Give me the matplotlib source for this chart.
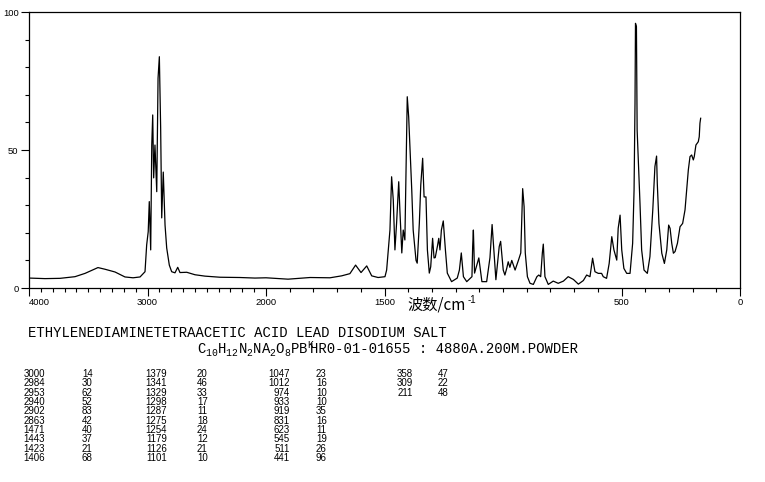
import matplotlib
matplotlib.use("Agg")
import matplotlib.pyplot as plt
from matplotlib.ticker import FixedLocator, MultipleLocator
import numpy as np

# ---- spectrum (wavenumber cm-1, intensity) ----
wavenumber = [4000, 3865, 3738, 3612, 3527, 3418, 3359, 3274, 3190, 3122, 3063,
              3021, 3007, 2994, 2985, 2973, 2964, 2956, 2948, 2937, 2922, 2911,
              2900, 2889, 2880, 2867, 2852, 2838, 2816, 2796, 2768, 2745, 2726,
              2669, 2599, 2515, 2388, 2219, 2093, 2000,
              1907, 1814, 1730, 1681, 1646, 1622, 1599, 1575, 1554, 1527, 1498,
              1491, 1477, 1470, 1463, 1456, 1449, 1440, 1435, 1427, 1421, 1414,
              1404, 1398, 1392, 1385, 1379, 1367, 1362, 1353, 1347, 1339, 1333,
              1325, 1319, 1311, 1305, 1297, 1291, 1286, 1277, 1271, 1266, 1260,
              1252, 1243, 1235, 1217, 1193, 1184, 1176, 1167, 1153, 1131, 1128,
              1125, 1120, 1108, 1102, 1097, 1089, 1069, 1055, 1046, 1038, 1030,
              1016, 1010, 999, 992, 984, 978, 971, 963, 949, 935, 925, 917, 911,
              906, 897, 886, 872, 857, 849, 841, 834, 830, 823, 809, 788, 767,
              745, 725, 703, 682, 661, 647, 633, 622, 612, 598, 584, 577, 563,
              552, 541, 532, 520, 514, 506, 499, 490, 478, 464, 453, 447, 443,
              441, 437, 434, 422, 415, 405, 391, 380, 368, 359, 352, 349,
              342, 330, 319, 309, 301, 295, 288, 281, 274, 264, 253, 242, 232,
              225, 218, 211, 204, 197, 193, 186, 176, 172, 169, 166]
intensity = [3.6, 3.4, 3.5, 4.1, 5.3, 7.4, 6.8, 5.8, 4.0, 3.7, 4.0,
             5.9, 15.6, 20.4, 31.3, 13.8, 51.8, 62.7, 39.9, 51.8, 34.9, 76.0,
             83.8, 58.0, 25.4, 42.0, 22.8, 14.5, 8.3, 5.9, 5.5, 7.5, 5.6,
             5.7, 4.8, 4.3, 3.9, 3.8, 3.6, 3.7,
             3.2, 3.8, 3.7, 4.4, 5.2, 8.3, 5.6, 8.0, 4.4, 3.8, 4.1,
             6.5, 21.0, 40.3, 31.9, 13.8, 23.5, 38.5, 28.0, 12.7, 21.0, 17.4,
             69.3, 62.0, 50.0, 35.5, 21.0, 10.0, 9.0, 23.5, 37.3, 47.0, 33.0,
             33.0, 13.8, 5.4, 7.7, 18.0, 10.9, 11.0, 15.0, 18.0, 13.8, 21.0,
             24.3, 13.8, 5.4, 2.3, 3.6, 6.5, 12.7, 4.1, 2.3, 4.1, 15.0,
             21.0, 5.4, 9.0, 10.9, 7.7, 2.3, 2.3, 11.0, 23.0, 12.7, 3.0,
             15.0, 16.9, 6.5, 4.7, 7.2, 9.5, 7.5, 10.0, 6.5, 10.0, 12.7, 36.0, 29.5,
             12.7, 4.1, 1.7, 1.3, 4.1, 4.7, 4.1, 12.7, 15.9, 4.1, 1.3, 2.5, 1.7,
             2.5, 4.1, 3.1, 1.4, 2.7, 4.7, 4.1, 10.8, 5.9, 5.3, 5.3, 4.1, 3.5,
             8.9, 18.6, 13.8, 10.1, 21.6, 26.4, 13.8, 7.1, 5.3, 5.3, 16.2, 35.5, 66.9,
             95.9, 94.7, 57.2, 30.7, 13.8, 6.5, 5.3, 11.4, 28.3, 44.0, 47.8, 37.9,
             23.4, 12.6, 8.9, 13.8, 22.8, 21.6, 16.2, 12.6, 13.2, 16.2, 22.2, 23.4, 28.3,
             35.5, 42.8, 47.6, 48.2, 46.4, 47.6, 51.8, 53.0, 54.8, 59.7, 61.5]

# ---- peak table ----
peak_wn = [3000, 2984, 2953, 2940, 2902, 2863, 1471, 1443, 1423, 1406,
           1379, 1341, 1329, 1298, 1287, 1275, 1254, 1179, 1126, 1101,
           1047, 1012, 974, 933, 919, 831, 623, 545, 511, 441,
           358, 309, 211]
peak_int = [14, 30, 62, 52, 83, 42, 40, 37, 21, 68,
            20, 46, 33, 17, 11, 18, 24, 12, 21, 10,
            23, 16, 10, 10, 35, 16, 11, 19, 26, 96,
            47, 22, 48]

x_ticks = [4000, 3000, 2000, 1500, 500, 0]
x_tick_labels = ["4000", "3000", "2000", "1500", "500", "0"]
y_ticks = [0, 50, 100]
y_tick_labels = ["0", "50", "100"]

title_line = "ETHYLENEDIAMINETETRAACETIC ACID LEAD DISODIUM SALT"
formula_line = "C$_{10}$H$_{12}$N$_2$NA$_2$O$_8$PB$^{K}$"
info_line = "HR0-01-01655 : 4880A.200M.POWDER"
xlabel_main = "波数/cm"
xlabel_sup = "-1"

W, H = 765, 482
plt.rcParams['mathtext.fontset'] = 'custom'
plt.rcParams['mathtext.rm'] = 'Liberation Mono'
plt.rcParams['mathtext.it'] = 'Liberation Mono'

fig = plt.figure(figsize=(W / 100, H / 100), dpi=100)
fig.patch.set_facecolor("white")

def fx(px):
    return px / W

def fy(py):
    return 1 - py / H

ax = fig.add_axes([fx(29), fy(288), fx(740) - fx(29), fy(12) - fy(288)])

def fwd(w):
    w = np.asarray(w, dtype=float)
    return np.where(w >= 2000, w / 2 + 1000, w)

def inv(u):
    u = np.asarray(u, dtype=float)
    return np.where(u >= 2000, (u - 1000) * 2, u)

ax.set_xscale('function', functions=(fwd, inv))
ax.plot(wavenumber, intensity, color="black", lw=0.9)
ax.set_xlim(4000, 0)
ax.set_ylim(0, 100)

ax.xaxis.set_major_locator(FixedLocator(x_ticks))
ax.set_xticklabels(x_tick_labels)
ax.xaxis.set_minor_locator(MultipleLocator(100))
ax.yaxis.set_major_locator(FixedLocator(y_ticks))
ax.set_yticklabels(y_tick_labels)
ax.yaxis.set_minor_locator(MultipleLocator(10))

ax.tick_params(axis='both', which='major', direction='out', length=6, width=0.8,
               labelsize=6.8, pad=1.5, color='black')
ax.tick_params(axis='both', which='minor', direction='out', length=3, width=0.8,
               color='black')
for lab in ax.get_xticklabels():
    lab.set_fontfamily('Liberation Sans')
for lab in ax.get_yticklabels():
    lab.set_fontfamily('Liberation Sans')
ax.get_xticklabels()[0].set_horizontalalignment('left')
for sp in ax.spines.values():
    sp.set_linewidth(0.9)
    sp.set_color('black')

# x label
fig.text(fx(407), fy(305), xlabel_main, family=['Noto Sans CJK SC', 'DejaVu Sans'],
         fontsize=11, va='center', ha='left')
fig.text(fx(468), fy(300), xlabel_sup, family='Liberation Sans',
         fontsize=7, va='center', ha='left')

# titles
fig.text(fx(28), fy(333), title_line, family='Liberation Mono', fontsize=10,
         va='center', ha='left')
fig.text(fx(197), fy(349), formula_line, family='Liberation Mono', fontsize=10,
         va='center', ha='left')
fig.text(fx(578), fy(349), info_line, family='Liberation Mono', fontsize=10,
         va='center', ha='right')

# peak table
col_wn_right = [45, 167, 290, 413]
col_int_left = [82, 197, 316, 438]
for i, (w, v) in enumerate(zip(peak_wn, peak_int)):
    col, row = divmod(i, 10)
    ypix = 374 + row * 9.33
    fig.text(fx(col_wn_right[col]), fy(ypix), str(w), family='Liberation Sans',
             fontsize=7, va='center', ha='right')
    fig.text(fx(col_int_left[col]), fy(ypix), str(v), family='Liberation Sans',
             fontsize=7, va='center', ha='left')

fig.savefig("out.png", dpi=100, facecolor="white")
